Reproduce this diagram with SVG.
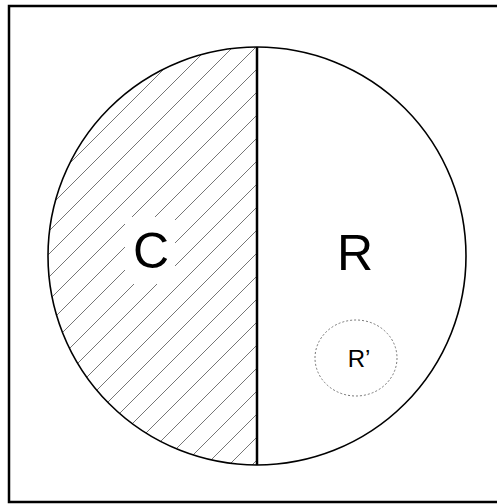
<svg xmlns="http://www.w3.org/2000/svg" width="497" height="504" viewBox="0 0 497 504">
<style>
.lbl{font-family:"Liberation Sans",Arial,sans-serif;fill:#000;text-anchor:middle}
.hatch{stroke:#666;stroke-width:0.9;fill:none}
</style>
<defs>
<clipPath id="leftHalf"><path d="M257,47 A209,209 0 0 0 257,465 Z"/></clipPath>
</defs>
<rect x="0" y="0" width="497" height="504" fill="#fff"/>
<g id="frame"><rect x="9" y="6" width="496" height="496" fill="none" stroke="#000" stroke-width="2.5"/></g>
<g id="C">
<g clip-path="url(#leftHalf)" class="hatch">
<path d="M0,280L280,0 M0,303L303,0 M0,326L326,0 M0,349L349,0 M0,372L372,0 M0,395L395,0 M0,418L418,0 M0,441L441,0 M0,464L464,0 M0,487L487,0 M0,510L510,0 M0,533L533,0 M0,556L556,0 M0,579L579,0 M0,602L602,0 M0,625L625,0 M0,648L648,0 M0,671L671,0 M0,694L694,0 M0,717L717,0 M0,740L740,0 M0,763L763,0 M0,256L256,0 M0,233L233,0 M0,210L210,0 M0,187L187,0"/>
</g>
<rect x="125" y="217" width="50" height="67" fill="#fff"/>
<text class="lbl" x="151" y="268" font-size="50">C</text>
</g>
<g id="circle"><circle cx="257" cy="256" r="209" fill="none" stroke="#000" stroke-width="1.6"/></g>
<g id="connectors"><line x1="257" y1="47" x2="257" y2="465" stroke="#000" stroke-width="2.5"/></g>
<g id="R"><text class="lbl" x="355" y="270" font-size="50">R</text></g>
<g id="Rprime">
<ellipse cx="356" cy="358" rx="41" ry="38" fill="none" stroke="#777" stroke-width="1" stroke-dasharray="2,2"/>
<text class="lbl" x="359" y="367" font-size="24">R’</text>
</g>
</svg>
